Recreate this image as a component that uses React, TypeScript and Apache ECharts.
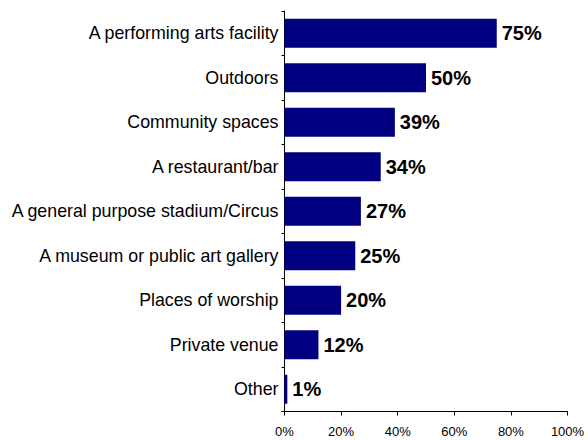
import React, { useEffect, useRef } from "react";
import * as echarts from "echarts";

const categories = [
  "A performing arts facility",
  "Outdoors",
  "Community spaces",
  "A restaurant/bar",
  "A general purpose stadium/Circus",
  "A museum or public art gallery",
  "Places of worship",
  "Private venue",
  "Other",
];
const values = [75, 50, 39, 34, 27, 25, 20, 12, 1];

const FONT = "Liberation Sans, Arial, sans-serif";

export default function App() {
  const ref = useRef<HTMLDivElement>(null);
  useEffect(() => {
    if (!ref.current) return;
    const chart = echarts.init(ref.current, null, { renderer: "svg" });
    chart.setOption({
      animation: false,
      textStyle: { fontFamily: FONT },
      grid: { left: 284.5, right: 20.5, top: 11, bottom: 28.5, containLabel: false },
      xAxis: {
        type: "value",
        min: 0,
        max: 100,
        interval: 20,
        axisLine: { show: true, lineStyle: { color: "#000", width: 1 } },
        axisTick: { show: true, length: 4, lineStyle: { color: "#000" } },
        splitLine: { show: false },
        axisLabel: {
          formatter: "{value}%",
          color: "#000",
          fontSize: 13,
          margin: 13,
          fontFamily: FONT,
        },
      },
      yAxis: {
        type: "category",
        data: categories,
        inverse: true,
        axisLine: { show: true, lineStyle: { color: "#000", width: 1 } },
        axisTick: { show: true, length: 3, lineStyle: { color: "#000" } },
        axisLabel: {
          color: "#000",
          fontSize: 17.8,
          margin: 6,
          fontFamily: FONT,
        },
      },
      series: [
        {
          type: "bar",
          data: values,
          barWidth: 29,
          itemStyle: { color: "#000080" },
          label: {
            show: true,
            position: "right",
            distance: 5,
            formatter: "{c}%",
            color: "#000",
            fontSize: 20,
            fontWeight: "bold",
            fontFamily: FONT,
          },
        },
      ],
    });
    return () => chart.dispose();
  }, []);
  return (
    <div
      ref={ref}
      style={{ position: "absolute", left: 0, top: 0, width: 588, height: 440 }}
    />
  );
}
